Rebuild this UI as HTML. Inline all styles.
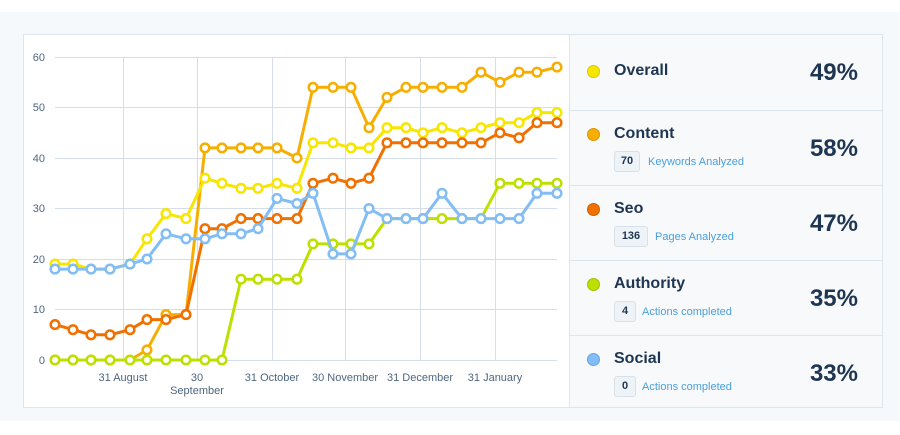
<!DOCTYPE html>
<html><head><style>
*{margin:0;padding:0;box-sizing:border-box}
body{width:900px;height:435px;background:#fff;font-family:"Liberation Sans",Arial,sans-serif;position:relative;overflow:hidden}
.bg{position:absolute;left:0;top:12px;width:900px;height:409px;background:#f5f9fc}
.card{position:absolute;left:23px;top:34px;width:860px;height:374px;background:#fff;border:1px solid #dbe6ee}
.panel{position:absolute;left:569px;top:34px;width:314px;height:374px;background:#f7f9fb;border:1px solid #dbe6ee}
.row{position:absolute;left:0;width:312px;border-bottom:1px solid #dbe6ee}
.dot{position:absolute;left:17px;width:13px;height:13px;border-radius:50%}
.lbl{position:absolute;left:44px;font-weight:bold;font-size:16px;color:#1f3652}
.pct{position:absolute;right:24px;font-weight:bold;font-size:24px;color:#1f3652}
.badge{position:absolute;left:44px;height:21px;width:22px;border:1px solid #d6e1ea;border-radius:3px;background:#eef3f7;font-size:11px;font-weight:bold;color:#1f3652;text-align:center;line-height:19px}
.lnk{position:absolute;font-size:11px;color:#4a9fdc}
</style></head><body>
<div class="bg"></div>
<div class="card"></div>
<svg style="position:absolute;left:0;top:0" width="900" height="435">
<g stroke="#d5dee8" stroke-width="1">
<line x1="55" y1="57.5" x2="557" y2="57.5"/><line x1="55" y1="107.5" x2="557" y2="107.5"/><line x1="55" y1="158.5" x2="557" y2="158.5"/><line x1="55" y1="208.5" x2="557" y2="208.5"/><line x1="55" y1="259.5" x2="557" y2="259.5"/><line x1="55" y1="309.5" x2="557" y2="309.5"/><line x1="55" y1="360.5" x2="557" y2="360.5"/>
<line x1="123.5" y1="57" x2="123.5" y2="360"/><line x1="197.5" y1="57" x2="197.5" y2="360"/><line x1="272.5" y1="57" x2="272.5" y2="360"/><line x1="345.5" y1="57" x2="345.5" y2="360"/><line x1="420.5" y1="57" x2="420.5" y2="360"/><line x1="495.5" y1="57" x2="495.5" y2="360"/>
</g>
<g font-size="11" fill="#4f6680" text-anchor="end">
<text x="45" y="61">60</text><text x="45" y="111">50</text><text x="45" y="162">40</text><text x="45" y="212">30</text><text x="45" y="263">20</text><text x="45" y="313">10</text><text x="45" y="364">0</text>
</g>
<g font-size="11" fill="#4f6680" text-anchor="middle">
<text x="123" y="381">31 August</text><text x="197" y="381">30</text><text x="197" y="394">September</text><text x="272" y="381">31 October</text><text x="345" y="381">30 November</text><text x="420" y="381">31 December</text><text x="495" y="381">31 January</text>
</g>
<g id="series"></g>
</svg>
<div class="panel">
<div class="row" style="top:0;height:76px"><div class="dot" style="top:30px;background:#f7e600;border:1px solid #d9c800"></div><div class="lbl" style="top:27px">Overall</div><div class="pct" style="top:24px">49%</div></div>
<div class="row" style="top:76px;height:75px"><div class="dot" style="top:17px;background:#f7ae00;border:1px solid #d99400"></div><div class="lbl" style="top:14px">Content</div><div class="badge" style="top:40px;width:26px">70</div><div class="lnk" style="left:78px;top:45px">Keywords Analyzed</div><div class="pct" style="top:100px;top:24px">58%</div></div>
<div class="row" style="top:151px;height:75px"><div class="dot" style="top:17px;background:#f07000;border:1px solid #d06000"></div><div class="lbl" style="top:14px">Seo</div><div class="badge" style="top:40px;width:34px">136</div><div class="lnk" style="left:85px;top:45px">Pages Analyzed</div><div class="pct" style="top:24px">47%</div></div>
<div class="row" style="top:226px;height:75px"><div class="dot" style="top:17px;background:#bde000;border:1px solid #9fc000"></div><div class="lbl" style="top:14px">Authority</div><div class="badge" style="top:40px">4</div><div class="lnk" style="left:72px;top:45px">Actions completed</div><div class="pct" style="top:24px">35%</div></div>
<div class="row" style="top:301px;height:72px;border-bottom:none"><div class="dot" style="top:17px;background:#82bdf5;border:1px solid #66a6e0"></div><div class="lbl" style="top:14px">Social</div><div class="badge" style="top:40px">0</div><div class="lnk" style="left:72px;top:45px">Actions completed</div><div class="pct" style="top:24px">33%</div></div>
</div>
<script>
var xs=[55,73,91,110,130,147,166,186,205,222,241,258,277,297,313,333,351,369,387,406,423,442,462,481,500,519,537,557];
var S=[
["#f7ae00",[0,0,0,0,0,2,9,9,42,42,42,42,42,40,54,54,54,46,52,54,54,54,54,57,55,57,57,58]],
["#f7e600",[19,19,18,18,19,24,29,28,36,35,34,34,35,34,43,43,42,42,46,46,45,46,45,46,47,47,49,49]],
["#f07000",[7,6,5,5,6,8,8,9,26,26,28,28,28,28,35,36,35,36,43,43,43,43,43,43,45,44,47,47]],
["#bde000",[0,0,0,0,0,0,0,0,0,0,16,16,16,16,23,23,23,23,28,28,28,28,28,28,35,35,35,35]],
["#82bdf5",[18,18,18,18,19,20,25,24,24,25,25,26,32,31,33,21,21,30,28,28,28,33,28,28,28,28,33,33]]
];
var g=document.getElementById('series'),h='';
function y(v){return 360-v*5.05}
S.forEach(function(s){
 var p=s[1].map(function(v,i){return xs[i]+','+y(v).toFixed(1)}).join(' ');
 h+='<polyline points="'+p+'" fill="none" stroke="'+s[0]+'" stroke-width="3" stroke-linejoin="round"/>';
 s[1].forEach(function(v,i){h+='<circle cx="'+xs[i]+'" cy="'+y(v).toFixed(1)+'" r="4.3" fill="#fff" stroke="'+s[0]+'" stroke-width="2.5"/>'});
});
g.innerHTML=h;
</script>
</body></html>
